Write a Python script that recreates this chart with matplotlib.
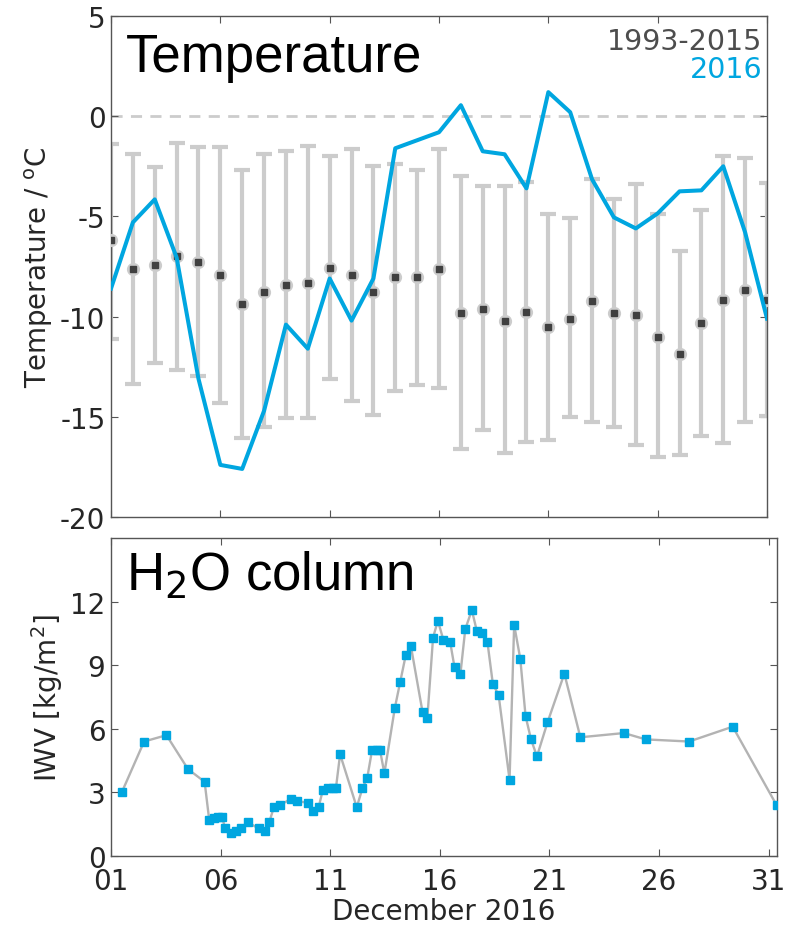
import numpy as np
import matplotlib
matplotlib.use('Agg')
import matplotlib.pyplot as plt

# --- data ---
days = np.arange(1, 32)

clim_mean = [-6.2, -7.6, -7.4, -7.0, -7.3, -7.9, -9.35, -8.75, -8.4, -8.3,
             -7.55, -7.9, -8.75, -8.0, -8.0, -7.6, -9.8, -9.6, -10.2, -9.75,
             -10.5, -10.1, -9.2, -9.8, -9.9, -11.0, -11.85, -10.3, -9.15, -8.65, -9.15]
clim_high = [-1.4, -1.9, -2.55, -1.35, -1.55, -1.55, -2.7, -1.9, -1.75, -1.5,
             -2.0, -1.65, -2.5, -2.4, -2.7, -1.65, -3.0, -3.5, -3.5, -3.3,
             -4.9, -5.1, -3.15, -4.15, -3.4, -4.9, -6.75, -4.7, -2.0, -2.1, -3.35]
clim_low = [-11.1, -13.35, -12.3, -12.65, -12.95, -14.3, -16.05, -15.5, -15.05, -15.05,
            -13.1, -14.2, -14.9, -13.7, -13.4, -13.55, -16.6, -15.65, -16.8, -16.25,
            -16.15, -15.0, -15.25, -15.5, -16.4, -17.0, -16.9, -15.95, -16.3, -15.25, -14.95]

t2016 = [-8.6, -5.3, -4.15, -7.05, -13.1, -17.4, -17.6, -14.7, -10.4, -11.6,
         -8.1, -10.2, -8.1, -1.6, -1.2, -0.8, 0.55, -1.75, -1.9, -3.6,
         1.2, 0.2, -3.15, -5.05, -5.6, -4.85, -3.75, -3.7, -2.5, -5.8, -10.1]

iwv_day = [1.49, 2.51, 3.53, 4.51, 5.27, 5.48, 5.71, 5.89, 6.06, 6.21,
           6.48, 6.70, 6.94, 7.23, 7.73, 8.01, 8.22, 8.43, 8.71, 9.21,
           9.48, 9.99, 10.20, 10.47, 10.66, 10.90, 11.14, 11.26, 11.45, 12.21,
           12.47, 12.69, 12.91, 13.12, 13.27, 13.47, 13.95, 14.19, 14.45, 14.68,
           15.21, 15.43, 15.69, 15.91, 16.16, 16.47, 16.67, 16.94, 17.16, 17.46,
           17.69, 17.93, 18.17, 18.42, 18.68, 19.18, 19.39, 19.67, 19.91, 20.16,
           20.43, 20.91, 21.68, 22.41, 24.40, 25.39, 27.37, 29.36, 31.36]
iwv = [3.0, 5.4, 5.7, 4.1, 3.5, 1.7, 1.8, 1.85, 1.85, 1.3,
       1.1, 1.2, 1.3, 1.6, 1.3, 1.2, 1.6, 2.3, 2.4, 2.7,
       2.6, 2.5, 2.1, 2.3, 3.1, 3.2, 3.2, 3.2, 4.8, 2.3,
       3.2, 3.7, 5.0, 5.0, 5.0, 3.9, 7.0, 8.2, 9.5, 9.9,
       6.8, 6.5, 10.3, 11.1, 10.2, 10.1, 8.9, 8.6, 10.7, 11.6,
       10.6, 10.5, 10.1, 8.1, 7.6, 3.6, 10.9, 9.3, 6.6, 5.5,
       4.7, 6.3, 8.6, 5.6, 5.8, 5.5, 5.4, 6.1, 2.4]

xtick_days = [1, 6, 11, 16, 21, 26, 31]
xtick_labels = ['01', '06', '11', '16', '21', '26', '31']

blue = '#00a6e0'
lgray = '#cccccc'
dgray = '#404040'
frame = '#555555'

plt.rcParams['font.family'] = 'DejaVu Sans'
plt.rcParams['font.size'] = 20
plt.rcParams['axes.unicode_minus'] = False
plt.rcParams['axes.edgecolor'] = frame
plt.rcParams['xtick.color'] = frame
plt.rcParams['ytick.color'] = frame
plt.rcParams['xtick.labelcolor'] = '#262626'
plt.rcParams['ytick.labelcolor'] = '#262626'

fig = plt.figure(figsize=(7.94, 9.29), dpi=100)
ax1 = fig.add_axes([0.1398, 0.4424, 0.8262, 0.5393])
ax2 = fig.add_axes([0.1398, 0.0775, 0.8388, 0.3423])

# temperature panel
ax1.axhline(0, color=lgray, lw=2, ls=(0, (4, 3)), zorder=1)
mean = np.array(clim_mean)
ax1.errorbar(days, mean, yerr=[mean - np.array(clim_low), np.array(clim_high) - mean],
             fmt='none', ecolor=lgray, elinewidth=3, capsize=6, capthick=3, zorder=2)
ax1.plot(days, mean, 'o', color=lgray, ms=8.5, zorder=3)
ax1.plot(days, mean, 's', color=dgray, ms=4, zorder=4)
ax1.plot(days, t2016, color=blue, lw=2.9, zorder=5)
ax1.set_xlim(1, 31)
ax1.set_ylim(-20, 5)
ax1.set_yticks([5, 0, -5, -10, -15, -20])
ax1.set_xticks(xtick_days)
ax1.set_xticklabels([])
ax1.set_ylabel('Temperature / $^{\\mathrm{o}}$C', color='#262626')
ax1.tick_params(direction='in', top=True, right=True, length=5, pad=4)
ax1.text(0.022, 0.89, 'Temperature', transform=ax1.transAxes, fontsize=38,
         family='Liberation Sans', color='black')
ax1.text(0.993, 0.935, '1993-2015', transform=ax1.transAxes, ha='right',
         fontsize=20.5, color='#4d4d4d')
ax1.text(0.993, 0.878, '2016', transform=ax1.transAxes, ha='right',
         fontsize=20.5, color=blue)

# water vapour panel
ax2.plot(iwv_day, iwv, color='#b3b3b3', lw=1.7, zorder=2)
ax2.plot(iwv_day, iwv, 's', color=blue, ms=5.5, zorder=3)
ax2.set_xlim(1, 31.38)
ax2.set_ylim(0, 15)
ax2.set_yticks([0, 3, 6, 9, 12])
ax2.set_xticks(xtick_days)
ax2.set_xticklabels(xtick_labels)
ax2.set_xlabel('December 2016', color='#262626', labelpad=1)
ax2.set_ylabel('IWV [kg/m$^2$]', color='#262626')
ax2.tick_params(direction='in', top=True, right=True, length=5, pad=4)
ax2.tick_params(axis='x', pad=8)
ax2.text(0.022, 0.84, 'H$_2$O column', transform=ax2.transAxes, fontsize=38,
         family='Liberation Sans', color='black')

for ax in (ax1, ax2):
    for s in ax.spines.values():
        s.set_linewidth(1.0)

plt.savefig('out.png', dpi=100)
